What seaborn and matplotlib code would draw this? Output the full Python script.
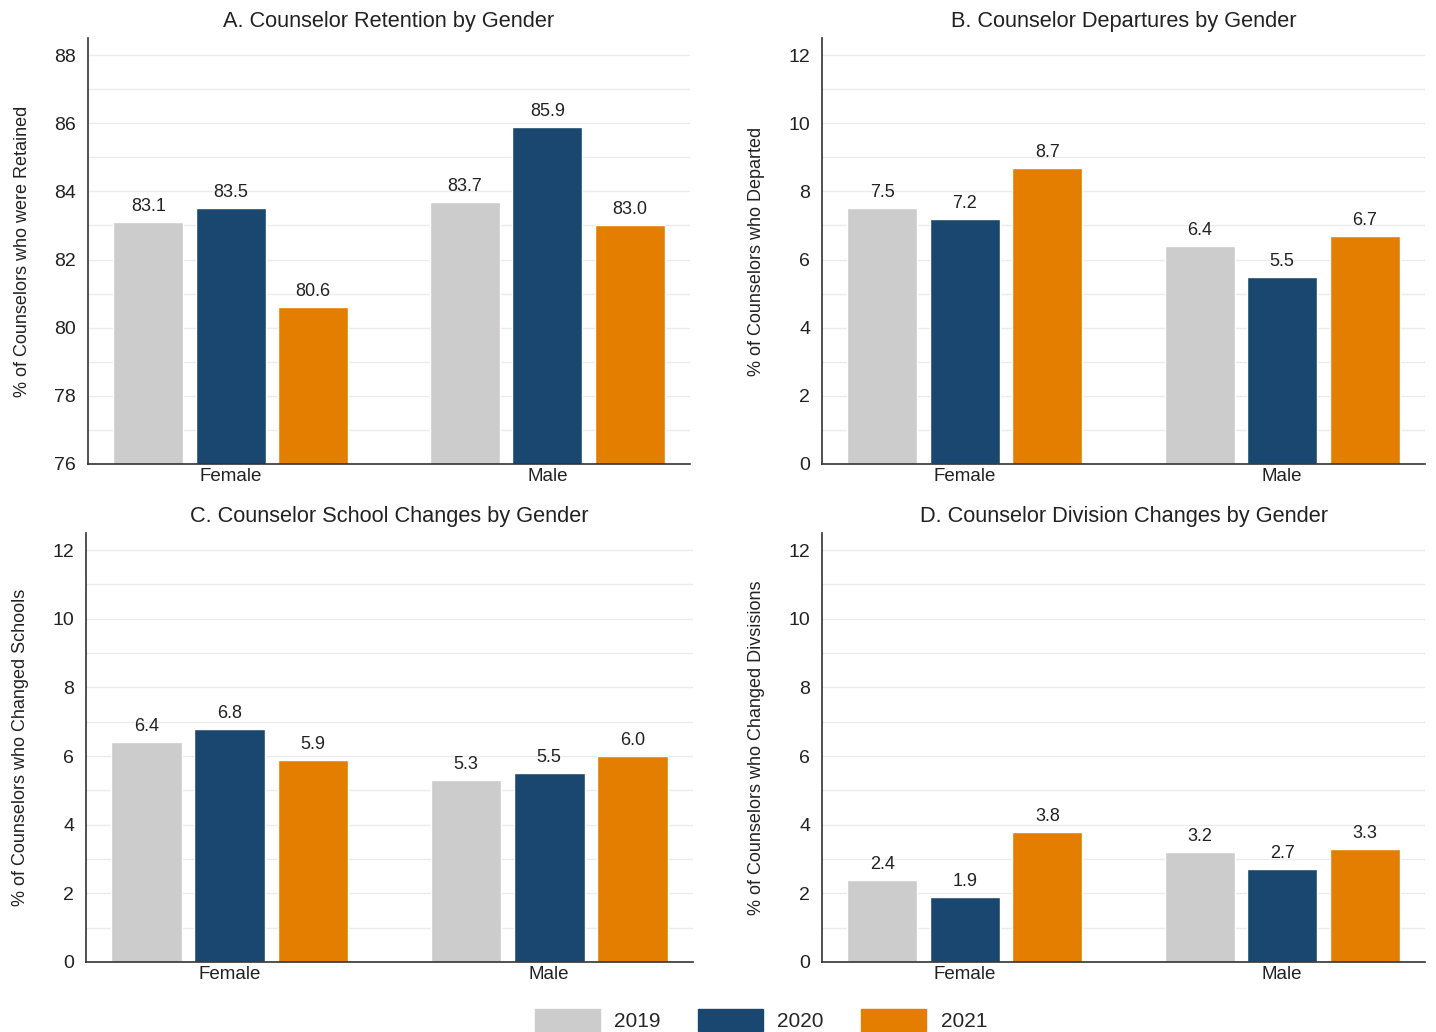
import pandas as pd
import numpy as np
import matplotlib
matplotlib.use("Agg")
import matplotlib.pyplot as plt
import seaborn as sns

sns.set_style("white")
plt.rcParams['font.family'] = ['Liberation Sans', 'DejaVu Sans']

genders = ["Female", "Male"]
years = ["2019", "2020", "2021"]
colors = ["#CCCCCC", "#1A476F", "#E37E00"]

retained = {"Female": [83.1, 83.5, 80.6], "Male": [83.7, 85.9, 83.0]}
departed = {"Female": [7.5, 7.2, 8.7], "Male": [6.4, 5.5, 6.7]}
changed_schools = {"Female": [6.4, 6.8, 5.9], "Male": [5.3, 5.5, 6.0]}
changed_divisions = {"Female": [2.4, 1.9, 3.8], "Male": [3.2, 2.7, 3.3]}

panels = [
    ("A. Counselor Retention by Gender", "% of Counselors who were Retained", retained, (76, 88)),
    ("B. Counselor Departures by Gender", "% of Counselors who Departed", departed, (0, 12)),
    ("C. Counselor School Changes by Gender", "% of Counselors who Changed Schools", changed_schools, (0, 12)),
    ("D. Counselor Division Changes by Gender", "% of Counselors who Changed Divsisions", changed_divisions, (0, 12)),
]

W, H = 1436, 1032
# axes boxes in pixels: left, right, top(ylim top), bottom
boxes = [(88, 690, 38, 464), (822, 1425, 38, 464), (86, 693, 533, 962), (822, 1425, 533, 962)]


def long_df(d):
    rows = []
    for g in genders:
        for y, v in zip(years, d[g]):
            rows.append({"gender": g, "year": y, "value": v})
    return pd.DataFrame(rows)


fig = plt.figure(figsize=(W / 100, H / 100), dpi=100)

for (title, ylabel, d, (lo, hi)), (l, r, t, b) in zip(panels, boxes):
    ax = fig.add_axes([l / W, 1 - b / H, (r - l) / W, (b - t) / H])
    df = long_df(d)
    sns.barplot(data=df, x="gender", y="value", hue="year", palette=colors,
                width=0.78, gap=0.15, ax=ax, legend=False, saturation=1)
    ax.set_ylim(lo, hi + 0.5)
    ax.set_xlim(-0.45, 1.45)
    ax.set_yticks(np.arange(lo, hi + 1, 2))
    ax.set_yticks(np.arange(lo, hi + 1, 1), minor=True)
    ax.grid(True, which="both", axis="y", color="#EBEBEB", linewidth=1)
    ax.set_axisbelow(True)
    for c in ax.containers:
        ax.bar_label(c, fmt="%.1f", padding=5, fontsize=13, color="#222222")
    ax.set_title(title, fontsize=15.7, pad=8, color="#222222")
    ax.set_ylabel(ylabel, fontsize=13, color="#222222", labelpad=17)
    ax.set_xlabel("")
    for s in ["top", "right"]:
        ax.spines[s].set_visible(False)
    for s in ["left", "bottom"]:
        ax.spines[s].set_color("#333333")
        ax.spines[s].set_linewidth(1.2)
    ax.tick_params(axis="y", which="major", length=5, color="#333333", labelsize=14, labelcolor="#222222")
    ax.tick_params(axis="y", which="minor", length=3, color="#777777")
    ax.tick_params(axis="x", length=0, labelsize=13.5, labelcolor="#222222", pad=3)

handles = [plt.Rectangle((0, 0), 1, 1, color=c) for c in colors]
fig.legend(handles, years, loc="center", bbox_to_anchor=(761 / W, 1 - 1020 / H),
           ncol=3, frameon=False, fontsize=15, handlelength=3.1, handleheight=1.25,
           handletextpad=0.7, columnspacing=1.8)

fig.savefig("out.png", dpi=100)
